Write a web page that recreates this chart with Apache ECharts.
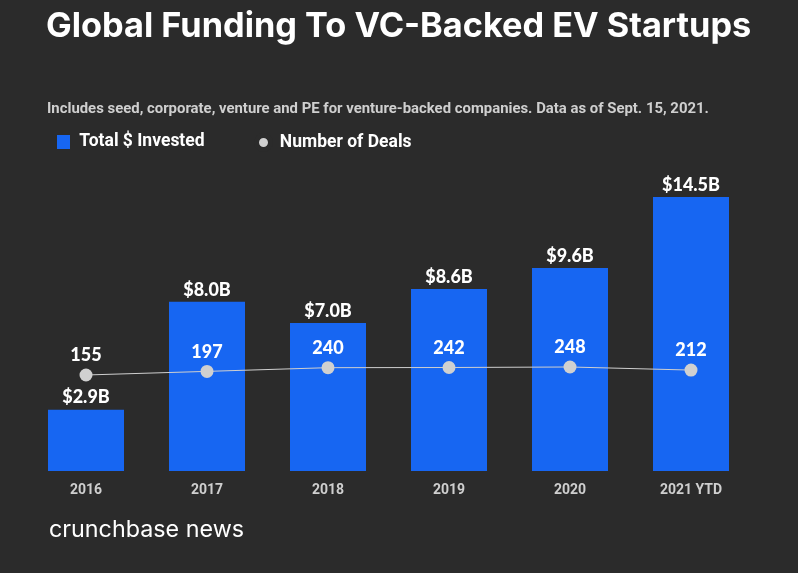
<!DOCTYPE html>
<html><head><meta charset="utf-8">
<script src="https://cdn.jsdelivr.net/npm/echarts@6/dist/echarts.min.js"></script>
<style>html,body{margin:0;padding:0;background:#2b2b2b}#c{width:798px;height:573px}</style>
</head><body><div id="c"></div>
<script>
const categories = ['2016','2017','2018','2019','2020','2021 YTD'];
const invested = [2.9, 8.0, 7.0, 8.6, 9.6, 14.5];
const investedLabels = ['$2.9B','$8.0B','$7.0B','$8.6B','$9.6B','$14.5B'];
const deals = [155, 197, 240, 242, 248, 212];

const chart = echarts.init(document.getElementById('c'), null, {renderer:'canvas'});
chart.setOption({
  backgroundColor: '#2b2b2b',
  animation: false,
  title: [
    {text: 'Global Funding To VC-Backed EV Startups', left: 41, top: 5,
     textStyle: {color:'#ffffff', fontFamily:'Inter', fontWeight:'bold', fontSize:34.3}},
    {text: 'Includes seed, corporate, venture and PE for venture-backed companies. Data as of Sept. 15, 2021.', left: 42, top: 97,
     textStyle: {color:'#cfcfcf', fontFamily:'Roboto', fontWeight:'bold', fontSize:14.9}},
    {text: 'crunchbase news', left: 44, top: 513,
     textStyle: {color:'#ffffff', fontFamily:'Inter', fontWeight:'normal', fontSize:23.3}}
  ],
  legend: [
    {
      left: 52, top: 128, itemWidth: 13, itemHeight: 14,
      formatter: n => ' ' + n,
      textStyle: {color:'#ffffff', fontFamily:'Roboto', fontWeight:'bold', fontSize:17.5},
      data: [{name:'Total $ Invested', icon:'rect'}]
    },
    {
      left: 249, top: 128, itemWidth: 14, itemHeight: 14,
      formatter: n => ' ' + n,
      textStyle: {color:'#ffffff', fontFamily:'Roboto', fontWeight:'bold', fontSize:17.5},
      data: [{name:'Number of Deals', icon:'circle', itemStyle:{color:'#d0d0d0', borderColor:'#2b2b2b', borderWidth:5}}]
    }
  ],
  grid: {left: 25.5, right: 46.5, top: 197, bottom: 102},
  xAxis: {
    type: 'category', data: categories,
    axisLine: {show:false}, axisTick: {show:false},
    axisLabel: {color:'#cfcfcf', fontFamily:'Roboto', fontWeight:'bold', fontSize:14, margin:12}
  },
  yAxis: [
    {type:'value', min:0, max:12.95, show:false, splitLine:{show:false}},
    {type:'value', min:-961, max:2224, show:false, splitLine:{show:false}}
  ],
  series: [
    {
      name:'Total $ Invested', type:'bar', data: invested, barWidth: 76,
      clip: true,
      itemStyle: {color:'#1766f2'},
      label: {show:true, position:'top', distance:3, color:'#ffffff', fontFamily:'Lato', fontWeight:900, fontSize:18,
        formatter: p => investedLabels[p.dataIndex]}
    },
    {
      name:'Number of Deals', type:'line', yAxisIndex:1, data: deals, z: 5,
      symbol:'circle', symbolSize: 13,
      lineStyle: {color:'#cfcfcf', width:1},
      itemStyle: {color:'#d0d0d0'},
      label: {show:true, position:'top', distance:4, color:'#ffffff', fontFamily:'Lato', fontWeight:900, fontSize:18}
    }
  ]
});
</script></body></html>
